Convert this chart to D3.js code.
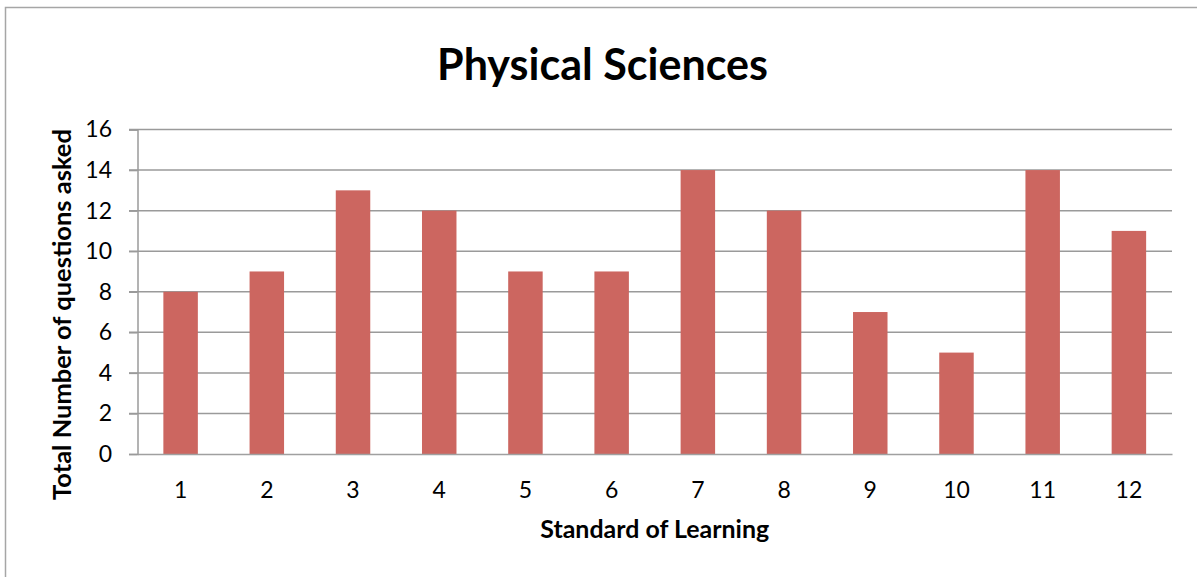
<!DOCTYPE html>
<html>
<head>
<meta charset="utf-8">
<script src="https://cdn.jsdelivr.net/npm/d3@7"></script>
<style>
  html, body { margin: 0; padding: 0; background: #fff; }
  svg { display: block; }
  text { font-family: Lato, "Open Sans", sans-serif; fill: #000; }
</style>
</head>
<body>
<svg id="chart" width="1197" height="577"></svg>
<script>
const categories = ["1","2","3","4","5","6","7","8","9","10","11","12"];
const values = [8, 9, 13, 12, 9, 9, 14, 12, 7, 5, 14, 11];
const yTicks = [0, 2, 4, 6, 8, 10, 12, 14, 16];
const titleText = "Physical Sciences";
const xTitleText = "Standard of Learning";
const yTitleText = "Total Number of questions asked";

const svg = d3.select("#chart");
const plot = { left: 137.5, right: 1172, top: 129.5, bottom: 454 };

// chart border
svg.append("rect")
  .attr("x", 5.5).attr("y", 7.5)
  .attr("width", 1300).attr("height", 700)
  .attr("fill", "none").attr("stroke", "#a6a6a6").attr("stroke-width", 1.5);

const x = d3.scaleBand()
  .domain(categories)
  .range([plot.left, plot.right])
  .paddingInner(0.6)
  .paddingOuter(0.3);

const y = d3.scaleLinear().domain([0, 16]).range([plot.bottom, plot.top]);

// gridlines
svg.append("g").selectAll("line").data(yTicks.filter(d => d > 0)).join("line")
  .attr("x1", plot.left - 8.5).attr("x2", plot.right)
  .attr("y1", d => y(d)).attr("y2", d => y(d))
  .attr("stroke", "#9a9a9a").attr("stroke-width", 1.5);

// bars
svg.append("g").selectAll("rect").data(values).join("rect")
  .attr("x", (d, i) => x(categories[i]))
  .attr("width", x.bandwidth())
  .attr("y", d => y(d))
  .attr("height", d => y(0) - y(d))
  .attr("fill", "#cc6660");

function fitText(sel, targetWidth, startSize) {
  sel.style("font-size", startSize + "px");
  const w = sel.node().getComputedTextLength();
  sel.style("font-size", (startSize * targetWidth / w) + "px");
}

// y axis
const yAxis = d3.axisLeft(y).tickValues(yTicks).tickSize(8.5).tickPadding(17).tickFormat(d3.format("d"));
const gy = svg.append("g").attr("transform", `translate(${plot.left},0)`).call(yAxis);
gy.select(".domain").attr("stroke", "#9a9a9a").attr("stroke-width", 1.5);
gy.selectAll(".tick line").attr("stroke", "#9a9a9a").attr("stroke-width", 1.5);
gy.selectAll(".tick text").style("font-size", "23px").style("font-family", "Lato, sans-serif").attr("fill", "#000");

// x axis
const xAxis = d3.axisBottom(x).tickSize(0).tickPadding(28);
const gx = svg.append("g").attr("transform", `translate(0,${plot.bottom})`).call(xAxis);
gx.select(".domain").attr("stroke", "#a0a0a0").attr("stroke-width", 1.5);
gx.selectAll(".tick text").style("font-size", "23px").style("font-family", "Lato, sans-serif").attr("fill", "#000");

// title
const t = svg.append("text")
  .attr("x", 602.5).attr("y", 80)
  .attr("text-anchor", "middle")
  .style("font-weight", "bold")
  .text(titleText);
fitText(t, 331, 40);

// x title
const xt = svg.append("text")
  .attr("x", (plot.left + plot.right) / 2).attr("y", 538)
  .attr("text-anchor", "middle")
  .style("font-weight", "bold")
  .text(xTitleText);
fitText(xt, 229, 22);

// y title
const yt = svg.append("text")
  .attr("transform", `translate(71,314.5) rotate(-90)`)
  .attr("text-anchor", "middle")
  .style("font-weight", "bold")
  .text(yTitleText);
fitText(yt, 371, 22);
</script>
</body>
</html>
